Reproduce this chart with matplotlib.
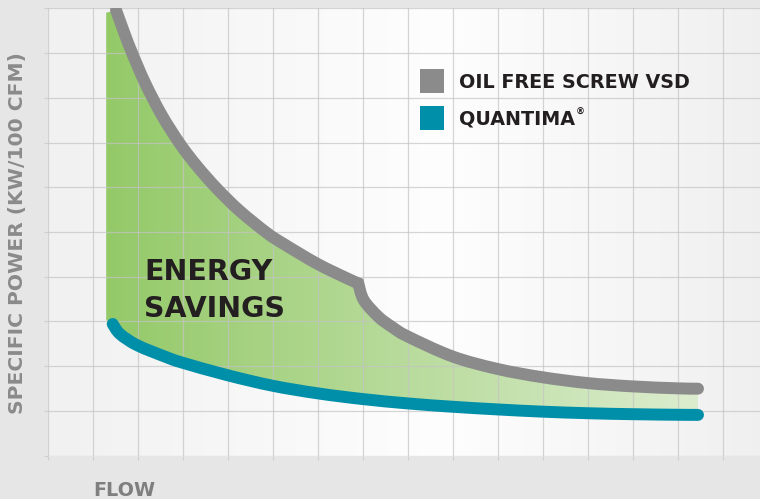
import numpy as np
import matplotlib
matplotlib.use("Agg")
import matplotlib.pyplot as plt
from matplotlib.patches import Polygon, Rectangle, PathPatch
from matplotlib.path import Path
from matplotlib.colors import to_rgb

# ---- data (grid units: flow / specific power) ----
flow_vsd = [1.518, 1.72, 1.88, 2.16, 2.53, 2.94, 3.32, 3.77, 4.27, 4.87, 5.25, 5.99,
            6.64, 6.902, 7.022, 7.347, 7.644, 7.991, 8.991, 9.991, 10.984, 11.984,
            12.984, 13.984, 14.451]
power_vsd = [9.96, 9.40, 8.99, 8.34, 7.62, 6.97, 6.47, 5.96, 5.47, 4.98, 4.73, 4.29,
             3.97, 3.853, 3.48, 3.107, 2.883, 2.67, 2.22, 1.94, 1.755, 1.625,
             1.55, 1.506, 1.498]
vsd_kink = 13  # index where the VSD curve changes regime
flow_q = [1.444, 1.607, 1.991, 2.644, 2.991, 3.991, 4.991, 5.991, 6.991, 7.984,
          8.984, 9.984, 10.984, 11.984, 12.984, 13.984, 14.451]
power_q = [2.944, 2.720, 2.468, 2.20, 2.08, 1.80, 1.565, 1.395, 1.267, 1.170,
           1.095, 1.035, 0.985, 0.950, 0.928, 0.915, 0.912]
series_names = ["OIL FREE SCREW VSD", "QUANTIMA"]
x_label = "FLOW"
y_label = "SPECIFIC POWER (KW/100 CFM)"
note = ["ENERGY", "SAVINGS"]


def smooth_path(xs, ys, breaks=()):
    """Catmull-Rom style Bezier path through the given points."""
    pts = np.column_stack([xs, ys]).astype(float)
    cuts = [0] + list(breaks) + [len(pts) - 1]
    verts = [pts[0]]
    codes = [Path.MOVETO]
    for a, b in zip(cuts[:-1], cuts[1:]):
        seg = pts[a:b + 1]
        n = len(seg) - 1
        for i in range(n):
            p0 = seg[i - 1] if i > 0 else seg[i]
            p3 = seg[i + 2] if i + 2 <= n else seg[i + 1]
            c1 = seg[i] + (seg[i + 1] - p0) / 6.0
            c2 = seg[i + 1] - (p3 - seg[i]) / 6.0
            verts += [c1, c2, seg[i + 1]]
            codes += [Path.CURVE4] * 3
    return Path(np.array(verts), codes)


W, H = 760, 499
fig = plt.figure(figsize=(W / 100, H / 100), dpi=100, facecolor="#e6e6e6")
left_px, top_px, bot_px = 47.7, 8.3, 455.7
ax = fig.add_axes([left_px / W, (H - bot_px) / H, 1 - left_px / W, (bot_px - top_px) / H])
xmax = (W - left_px) / 45.0

# plot-area background gradient (light grey edges, white centre)
xs = np.linspace(0, 1, 400)
centre = 0.55
lv = np.where(xs < centre, 0.945 + (0.995 - 0.945) * (xs / centre),
              0.995 - (0.995 - 0.94) * ((xs - centre) / (1 - centre)))
bg = np.dstack([lv, lv, lv])
ax.imshow(bg, extent=[0, xmax, 0, 10], aspect="auto", zorder=0, interpolation="bilinear")

# green gradient fill between the two curves
fill_left, fill_top, fill_bottom = 1.30, 9.90, 3.03
upper = [(fill_left, fill_top)] + list(zip(flow_vsd, power_vsd))
lower = list(zip(flow_q, power_q))[::-1] + [(fill_left, fill_bottom)]
poly = Polygon(upper + lower, closed=True, facecolor="none", edgecolor="none")
ax.add_patch(poly)
c0 = np.array(to_rgb("#94c968"))
c1 = np.array(to_rgb("#dcedcf"))
t = np.linspace(0, 1, 400)[None, :, None]
green = c0 + (c1 - c0) * t
im = ax.imshow(green, extent=[fill_left, flow_vsd[-1], 0, 10], aspect="auto",
               zorder=1, interpolation="bilinear")
im.set_clip_path(poly)
ax.set_xlim(0, xmax)
ax.set_ylim(0, 10)

# grid
ax.set_xticks(np.arange(0, 16))
ax.set_yticks(np.arange(0, 11))
ax.set_xticklabels([])
ax.set_yticklabels([])
ax.tick_params(length=3, color="#cfcfcf", width=0.8, direction="out")
ax.set_axisbelow("line")
ax.grid(True, color="#c4c4c4", alpha=0.7, lw=0.9)
for s in ax.spines.values():
    s.set_visible(False)

lw = 8.6
ax.add_patch(PathPatch(smooth_path(flow_vsd, power_vsd, [vsd_kink]), facecolor="none",
                       edgecolor="#8a8b8a", lw=lw, capstyle="round", joinstyle="miter",
                       zorder=3))
ax.add_patch(PathPatch(smooth_path(flow_q, power_q), facecolor="none",
                       edgecolor="#008fa8", lw=lw, capstyle="round", joinstyle="round",
                       zorder=3))

font = "DejaVu Sans"
dark = "#231f20"
# energy savings note
fig.text(144 / W, 1 - 280 / H, note[0], fontsize=20.5, fontweight="bold",
         color=dark, family=font, va="baseline", ha="left")
fig.text(144 / W, 1 - 317 / H, note[1], fontsize=20.5, fontweight="bold",
         color=dark, family=font, va="baseline", ha="left")

# legend
for i, (name, col) in enumerate(zip(series_names, ["#8a8b8a", "#008fa8"])):
    y0 = 69 + i * 37
    fig.patches.append(Rectangle((420 / W, 1 - (y0 + 24) / H), 24 / W, 24 / H,
                                 transform=fig.transFigure, facecolor=col,
                                 edgecolor="none", zorder=5))
    fig.text(459 / W, 1 - (y0 + 19) / H, name, fontsize=13.8, fontweight="bold",
             color=dark, family=font, va="baseline", ha="left", zorder=5)
fig.text(576 / W, 1 - (69 + 37 + 9) / H, "®", fontsize=6.5, fontweight="bold",
         color=dark, family=font, va="baseline", ha="left")

# axis labels
fig.text(93 / W, 1 - 496 / H, x_label, fontsize=13.8, fontweight="bold",
         color="#7f7f7f", family=font, va="baseline", ha="left")
fig.text(23.3 / W, 1 - 233 / H, y_label, fontsize=14.6, fontweight="bold",
         color="#8a8a8a", family=font, va="baseline", ha="center", rotation=90,
         rotation_mode="anchor")

fig.savefig("out.png", dpi=100, facecolor=fig.get_facecolor())
